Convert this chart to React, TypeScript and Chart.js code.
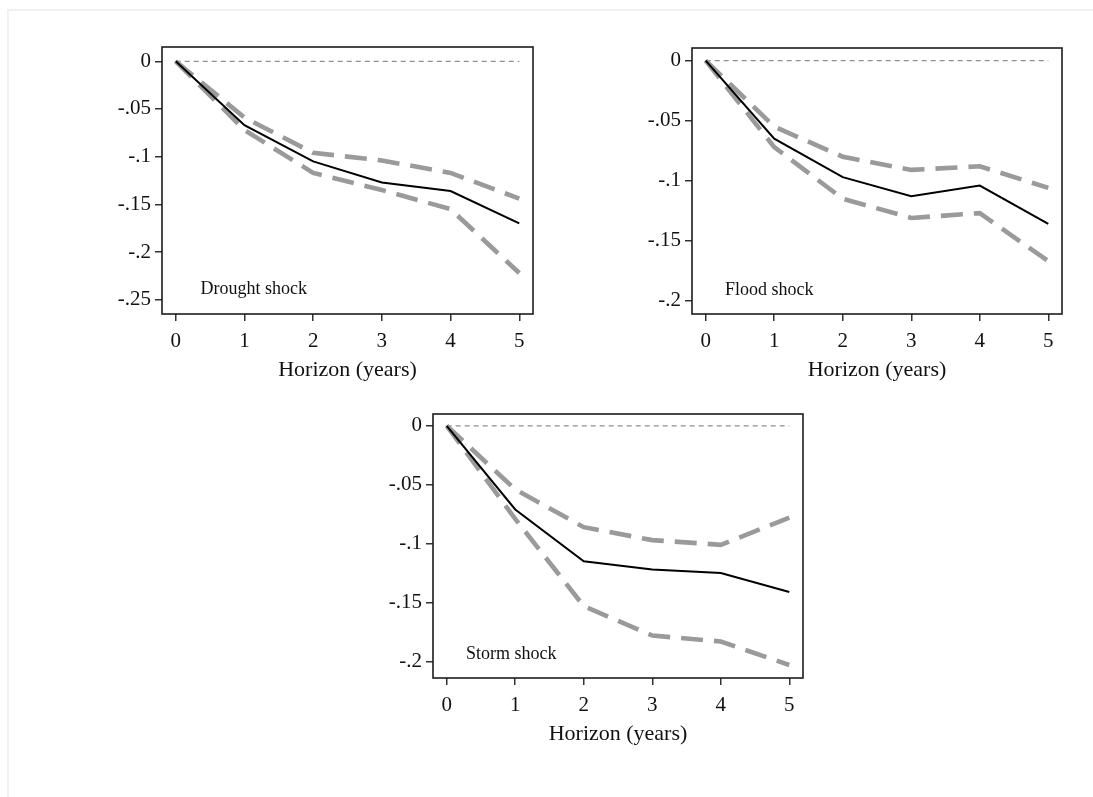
import React, { useEffect, useRef } from "react";
import { Chart, registerables } from "chart.js";

Chart.register(...registerables);

// Horizon (years after the shock)
const horizon = [0, 1, 2, 3, 4, 5];
const xTicks = [0, 1, 2, 3, 4, 5];

// Drought shock: point estimate and confidence band
const droughtEstimate = [0, -0.067, -0.105, -0.127, -0.136, -0.17];
const droughtUpper = [0, -0.059, -0.096, -0.104, -0.117, -0.144];
const droughtLower = [0, -0.072, -0.117, -0.135, -0.155, -0.222];
const droughtTicks = [0, -0.05, -0.1, -0.15, -0.2, -0.25];

// Flood shock
const floodEstimate = [0, -0.065, -0.097, -0.113, -0.104, -0.136];
const floodUpper = [0, -0.055, -0.08, -0.091, -0.088, -0.106];
const floodLower = [0, -0.072, -0.115, -0.131, -0.127, -0.167];
const floodTicks = [0, -0.05, -0.1, -0.15, -0.2];

// Storm shock
const stormEstimate = [0, -0.071, -0.115, -0.122, -0.125, -0.141];
const stormUpper = [0, -0.054, -0.086, -0.097, -0.101, -0.078];
const stormLower = [0, -0.079, -0.153, -0.178, -0.183, -0.203];
const stormTicks = [0, -0.05, -0.1, -0.15, -0.2];

const SERIF = "'Liberation Serif', 'Times New Roman', serif";
const INK = "#111111";

const formatTick = (v: number) => {
  if (v === 0) return "0";
  const s = String(Math.abs(v)).replace(/^0/, "");
  return (v < 0 ? "-" : "") + s;
};

// Draws the box round the plot region and the panel caption
const frameAndLabel = {
  id: "frameAndLabel",
  afterDatasetsDraw(chart: any, _args: any, opts: any) {
    const { ctx, chartArea: a, scales } = chart;
    ctx.save();
    ctx.strokeStyle = "#1c1c1c";
    ctx.lineWidth = 1.6;
    ctx.strokeRect(a.left, a.top, a.right - a.left, a.bottom - a.top);
    ctx.font = `18px ${SERIF}`;
    ctx.fillStyle = INK;
    ctx.textAlign = "left";
    ctx.textBaseline = "middle";
    ctx.fillText(
      opts.text,
      scales.x.getPixelForValue(opts.x),
      scales.y.getPixelForValue(opts.y)
    );
    ctx.restore();
  },
};

type PanelProps = {
  estimate: number[];
  upper: number[];
  lower: number[];
  yTicks: number[];
  yMin: number;
  yMax: number;
  caption: string;
  captionX: number;
  captionY: number;
  left: number;
  top: number;
  width: number;
  height: number;
};

function Panel(p: PanelProps) {
  const ref = useRef<HTMLCanvasElement | null>(null);

  useEffect(() => {
    if (!ref.current) return;
    const pts = (ys: number[]) => horizon.map((x, i) => ({ x, y: ys[i] }));
    const band = {
      borderColor: "#9a9a9a",
      borderWidth: 4.6,
      borderDash: [22, 11],
      borderCapStyle: "butt" as const,
      order: 1,
    };
    const gridStyle = {
      drawOnChartArea: false,
      drawTicks: true,
      tickLength: 7,
      tickColor: "#333333",
      tickWidth: 1.5,
      color: "#333333",
      lineWidth: 1.5,
    };
    const chart = new Chart(ref.current, {
      type: "line",
      data: {
        datasets: [
          {
            data: pts(p.estimate),
            borderColor: "#000000",
            borderWidth: 2,
            order: 0,
          },
          { data: pts(p.upper), ...band },
          { data: pts(p.lower), ...band },
          {
            data: horizon.map((x) => ({ x, y: 0 })),
            borderColor: "#8f8f8f",
            borderWidth: 1.2,
            borderDash: [5, 4],
            order: 2,
          },
        ],
      },
      options: {
        animation: false,
        responsive: false,
        events: [],
        elements: { point: { radius: 0 }, line: { tension: 0 } },
        layout: { padding: { top: 20, right: 16, left: 0, bottom: 0 } },
        plugins: {
          legend: { display: false },
          tooltip: { enabled: false },
          frameAndLabel: { text: p.caption, x: p.captionX, y: p.captionY },
        } as any,
        scales: {
          x: {
            type: "linear",
            min: -0.2,
            max: 5.2,
            afterBuildTicks: (s: any) => {
              s.ticks = xTicks.map((v) => ({ value: v }));
            },
            afterFit: (s: any) => {
              s.height = 72;
            },
            grid: gridStyle,
            border: { display: false },
            ticks: {
              autoSkip: false,
              maxRotation: 0,
              padding: 8,
              color: INK,
              font: { family: SERIF, size: 21 },
              callback: (v: any) => String(v),
            },
            title: {
              display: true,
              text: "Horizon (years)",
              color: INK,
              font: { family: SERIF, size: 22 },
              padding: { top: 0, bottom: 3 },
            },
          },
          y: {
            type: "linear",
            min: p.yMin,
            max: p.yMax,
            afterBuildTicks: (s: any) => {
              s.ticks = p.yTicks.map((v) => ({ value: v }));
            },
            afterFit: (s: any) => {
              s.width = 62;
            },
            grid: gridStyle,
            border: { display: false },
            ticks: {
              autoSkip: false,
              padding: 4,
              color: INK,
              font: { family: SERIF, size: 21 },
              callback: (v: any) => formatTick(Number(v)),
            },
          },
        },
      },
      plugins: [frameAndLabel],
    });
    return () => chart.destroy();
  }, []);

  return (
    <canvas
      ref={ref}
      width={p.width}
      height={p.height}
      style={{ position: "absolute", left: p.left, top: p.top }}
    />
  );
}

export default function App() {
  return (
    <div
      style={{
        position: "absolute",
        left: 0,
        top: 0,
        width: 1093,
        height: 797,
        background: "#ffffff",
        overflow: "hidden",
      }}
    >
      <div
        style={{
          position: "absolute",
          left: 7,
          top: 9,
          width: 1100,
          height: 800,
          borderTop: "2px solid #edf2f2",
          borderLeft: "2px solid #edf2f2",
        }}
      />
      <Panel
        estimate={droughtEstimate}
        upper={droughtUpper}
        lower={droughtLower}
        yTicks={droughtTicks}
        yMin={-0.265}
        yMax={0.015}
        caption="Drought shock"
        captionX={0.36}
        captionY={-0.2395}
        left={100}
        top={27}
        width={449}
        height={359}
      />
      <Panel
        estimate={floodEstimate}
        upper={floodUpper}
        lower={floodLower}
        yTicks={floodTicks}
        yMin={-0.211}
        yMax={0.0105}
        caption="Flood shock"
        captionX={0.28}
        captionY={-0.191}
        left={630}
        top={28}
        width={448}
        height={358}
      />
      <Panel
        estimate={stormEstimate}
        upper={stormUpper}
        lower={stormLower}
        yTicks={stormTicks}
        yMin={-0.214}
        yMax={0.01}
        caption="Storm shock"
        captionX={0.28}
        captionY={-0.194}
        left={371}
        top={394}
        width={448}
        height={356}
      />
    </div>
  );
}
